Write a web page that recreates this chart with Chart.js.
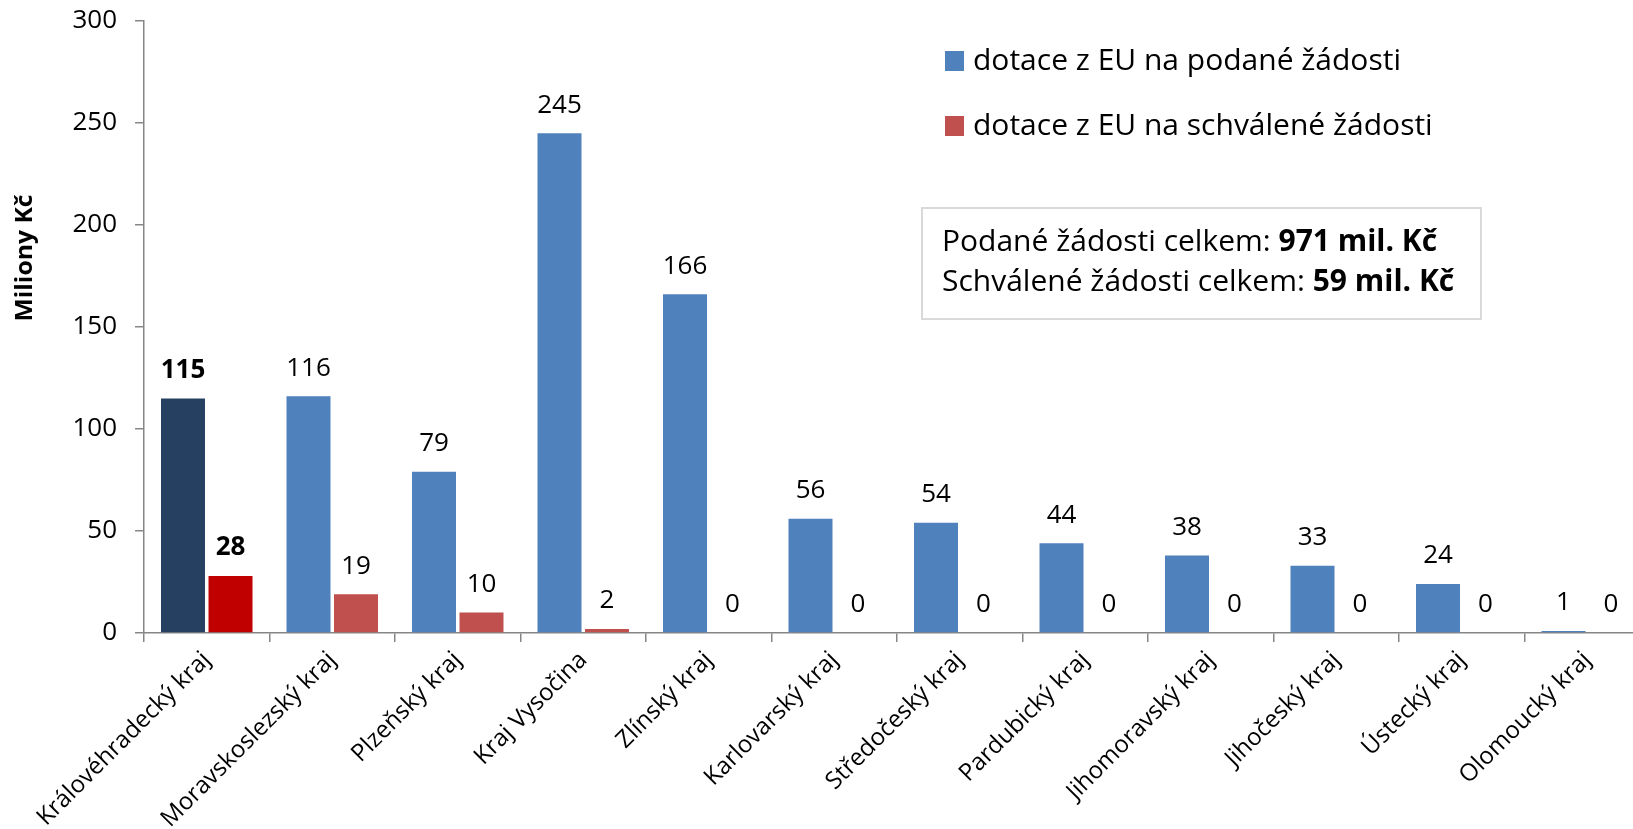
<!DOCTYPE html>
<html>
<head>
<meta charset="utf-8">
<script src="https://cdn.jsdelivr.net/npm/chart.js@4"></script>
<style>
  html, body { margin: 0; padding: 0; background: #fff; overflow: hidden; }
  .wrap { width: 1633px; height: 829px; overflow: hidden; }
</style>
</head>
<body>
<div class="wrap"><canvas id="graf" width="1660" height="829"></canvas></div>
<script>
"use strict";
const kraje = [
  "Královéhradecký kraj", "Moravskoslezský kraj", "Plzeňský kraj", "Kraj Vysočina",
  "Zlínský kraj", "Karlovarský kraj", "Středočeský kraj", "Pardubický kraj",
  "Jihomoravský kraj", "Jihočeský kraj", "Ústecký kraj", "Olomoucký kraj"
];
const podane = [115, 116, 79, 245, 166, 56, 54, 44, 38, 33, 24, 1];
const schvalene = [28, 19, 10, 2, 0, 0, 0, 0, 0, 0, 0, 0];
const nazvyRad = ["dotace z EU na podané žádosti", "dotace z EU na schválené žádosti"];
const souhrn = [
  ["Podané žádosti celkem: ", "971 mil. Kč"],
  ["Schválené žádosti celkem: ", "59 mil. Kč"]
];
const osaY = { min: 0, max: 300, step: 50, title: "Miliony Kč" };

const modra = "#4F81BD";
const cervena = "#C0504D";
const modraTmava = "#254061";
const cervenaSyta = "#C00000";
const pismo = "'Open Sans', Lato, sans-serif";
const seda = "#868686";

// popisky hodnot nad sloupci
const popiskyPlugin = {
  id: "popisky",
  afterDatasetsDraw(chart) {
    const ctx = chart.ctx;
    ctx.save();
    ctx.fillStyle = "#000";
    ctx.textAlign = "center";
    ctx.textBaseline = "middle";
    chart.data.datasets.forEach((ds, i) => {
      const meta = chart.getDatasetMeta(i);
      meta.data.forEach((bar, j) => {
        ctx.font = (j === 0 ? "bold " : "") + "26px " + pismo;
        ctx.fillText(String(ds.data[j]), bar.x, bar.y - 28);
      });
    });
    ctx.restore();
  }
};

// legenda, rámeček se součty a název osy
const doplnkyPlugin = {
  id: "doplnky",
  afterDraw(chart) {
    const ctx = chart.ctx;
    ctx.save();
    // legenda
    const barvy = [modra, cervena];
    ctx.textAlign = "left";
    ctx.textBaseline = "middle";
    ctx.font = "30px " + pismo;
    nazvyRad.forEach((t, i) => {
      const y = 61 + i * 65;
      ctx.fillStyle = barvy[i];
      ctx.fillRect(945, y - 10, 19, 20);
      ctx.fillStyle = "#000";
      ctx.fillText(t, 973, y);
    });
    // ramecek
    ctx.strokeStyle = "#D9D9D9";
    ctx.lineWidth = 2;
    ctx.strokeRect(922, 208, 559, 111);
    ctx.textBaseline = "alphabetic";
    souhrn.forEach((r, i) => {
      const y = 251 + i * 40;
      ctx.font = "30px " + pismo;
      ctx.fillText(r[0], 942, y);
      const w = ctx.measureText(r[0]).width;
      ctx.font = "bold 30px " + pismo;
      ctx.fillText(r[1], 942 + w, y);
    });
    // nazev osy Y
    ctx.translate(25, 258);
    ctx.rotate(-Math.PI / 2);
    ctx.textAlign = "center";
    ctx.textBaseline = "middle";
    ctx.font = "bold 23px " + pismo;
    const k = 127 / ctx.measureText(osaY.title).width;
    ctx.scale(k, 1);
    ctx.fillText(osaY.title, 0, 0);
    ctx.restore();
  }
};

new Chart(document.querySelector("#graf").getContext("2d"), {
  type: "bar",
  data: {
    labels: kraje,
    datasets: [
      {
        label: nazvyRad[0],
        data: podane,
        backgroundColor: (c) => (c.dataIndex === 0 ? modraTmava : modra),
        categoryPercentage: 0.757,
        barPercentage: 0.926
      },
      {
        label: nazvyRad[1],
        data: schvalene,
        backgroundColor: (c) => (c.dataIndex === 0 ? cervenaSyta : cervena),
        categoryPercentage: 0.757,
        barPercentage: 0.926
      }
    ]
  },
  options: {
    responsive: false,
    animation: false,
    layout: { padding: { left: 0, right: 10, top: 21, bottom: 0 } },
    plugins: {
      legend: { display: false },
      tooltip: { enabled: false }
    },
    scales: {
      x: {
        grid: { drawOnChartArea: false, color: seda, tickLength: 9, lineWidth: 1.5, offset: true },
        border: { color: seda, width: 1.5 },
        ticks: {
          color: "#000",
          font: { family: pismo, size: 24 },
          maxRotation: 45,
          minRotation: 45,
          autoSkip: false,
          padding: 4,
          labelOffset: 0
        },
        afterFit(s) { s.height = 196; }
      },
      y: {
        min: osaY.min,
        max: osaY.max,
        grid: { drawOnChartArea: false, color: seda, tickLength: 9, lineWidth: 1.5 },
        border: { color: seda, width: 1.5 },
        ticks: {
          stepSize: osaY.step,
          color: "#000",
          font: { family: pismo, size: 26 },
          padding: 18
        },
        afterFit(s) {
          s.width = 144;
          s.paddingTop = 0;
          s.paddingBottom = 0;
        }
      }
    }
  },
  plugins: [popiskyPlugin, doplnkyPlugin]
});
</script>
</body>
</html>
